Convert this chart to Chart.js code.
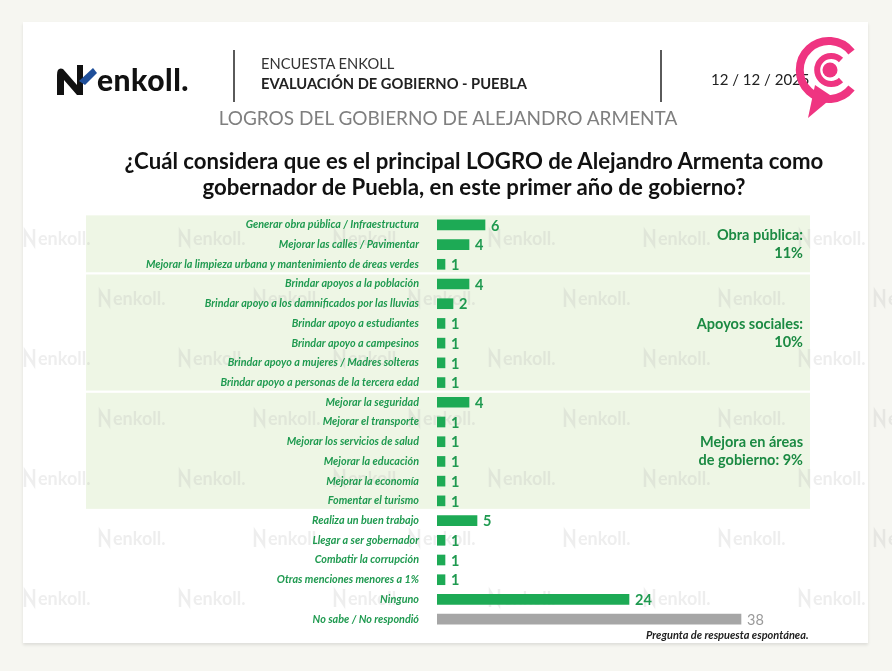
<!DOCTYPE html>
<html><head><meta charset="utf-8">
<script src="https://cdn.jsdelivr.net/npm/chart.js@4.4.1/dist/chart.umd.min.js"></script>
<style>
html,body{margin:0;padding:0;width:892px;height:671px;overflow:hidden;background:#f6f6f1;font-family:Lato,"Open Sans",sans-serif;}
#card{position:absolute;left:23px;top:22px;width:845px;height:621px;background:#fff;box-shadow:0 2px 3px rgba(0,0,0,0.10);}
#c{position:absolute;left:0;top:0;width:892px;height:671px;}
.t{position:absolute;white-space:nowrap;line-height:1;}
.vl{position:absolute;width:2px;background:#5a5a5a;}
</style></head><body>
<div id="card"></div>
<canvas id="c" width="892" height="671"></canvas>

<svg class="t" style="left:55px;top:63px" width="42" height="34" viewBox="0 0 42 34">
  <path d="M2 12 Q2 4 8 6 L22 22 L22 2 L28 2 L28 32 L22 32 L9 17 L9 32 L2 32 Z" fill="#111"/>
  <path d="M24 18 L38 5 L42 10 L30 22 Z" fill="#1f4f9a"/>
</svg>
<div class="t" style="left:97px;top:64px;font-size:30px;font-weight:900;color:#111;letter-spacing:0.5px">enkoll.</div>
<div class="vl" style="left:233px;top:50px;height:52px"></div>
<div class="t" style="left:261px;top:56px;font-size:14.7px;color:#333">ENCUESTA ENKOLL</div>
<div class="t" style="left:261px;top:76px;font-size:14.7px;font-weight:bold;color:#222">EVALUACIÓN DE GOBIERNO - PUEBLA</div>
<div class="vl" style="left:660px;top:50px;height:52px"></div>
<div class="t" style="left:711px;top:72px;font-size:15px;color:#222">12 / 12 / 2025</div>
<svg class="t" style="left:795px;top:35px" width="70" height="86" viewBox="0 0 70 86">
  <path d="M20 50 L13 83 L38 62 Z" fill="#ef3481"/>
  <path d="M56.5 17 A29 29 0 1 0 56.5 53" fill="none" stroke="#ef3481" stroke-width="8"/>
  <path d="M46 25 A14 14 0 1 0 46 45" fill="none" stroke="#ef3481" stroke-width="6"/>
  <circle cx="35" cy="35" r="7.5" fill="#ef3481"/>
</svg>
<div class="t" style="left:0;width:896px;text-align:center;top:108px;font-size:19px;color:#7f7f7f">LOGROS DEL GOBIERNO DE ALEJANDRO ARMENTA</div>
<div class="t" style="left:0;width:948px;text-align:center;top:148px;font-size:22.2px;font-weight:bold;color:#111;line-height:26px">¿Cuál considera que es el principal LOGRO de Alejandro Armenta como<br>gobernador de Puebla, en este primer año de gobierno?</div>
<div class="t" style="left:646px;top:629px;font-size:11px;font-weight:bold;font-style:italic;color:#222">Pregunta de respuesta espontánea.</div>

<script>
const categories = [
  "Generar obra pública / Infraestructura",
  "Mejorar las calles / Pavimentar",
  "Mejorar la limpieza urbana y mantenimiento de áreas verdes",
  "Brindar apoyos a la población",
  "Brindar apoyo a los damnificados por las lluvias",
  "Brindar apoyo a estudiantes",
  "Brindar apoyo a campesinos",
  "Brindar apoyo a mujeres / Madres solteras",
  "Brindar apoyo a personas de la tercera edad",
  "Mejorar la seguridad",
  "Mejorar el transporte",
  "Mejorar los servicios de salud",
  "Mejorar la educación",
  "Mejorar la economía",
  "Fomentar el turismo",
  "Realiza un buen trabajo",
  "Llegar a ser gobernador",
  "Combatir la corrupción",
  "Otras menciones menores a 1%",
  "Ninguno",
  "No sabe / No respondió"
];
const values = [6,4,1,4,2,1,1,1,1,4,1,1,1,1,1,5,1,1,1,24,38];
const noAnswerCategory = "No sabe / No respondió";
const groupLabels = [["Obra pública:","11%"],["Apoyos sociales:","10%"],["Mejora en áreas","de gobierno: 9%"]];
const groupFirst = [0,3,9];
const groupLast = [2,8,14];

const GREEN = "#1daa55", GRAY = "#a6a6a6", LABEL_GREEN = "#1f9a50", GROUP_GREEN = "#1b8a43";

const bandsPlugin = {
  id: "bands",
  beforeDraw(chart) {
    const ctx = chart.ctx, y = chart.scales.y;
    ctx.save();
    ctx.fillStyle = "#eef6e5";
    for (let g = 0; g < groupFirst.length; g++) {
      const top = y.getPixelForValue(groupFirst[g]) - 9.5;
      const bot = y.getPixelForValue(groupLast[g]) + 8;
      ctx.fillRect(86, top, 724, bot - top);
    }
    // watermarks
    ctx.font = "bold 18px Lato";
    ctx.textBaseline = "middle";
    const rows = [238,298,358,418,478,538,598];
    rows.forEach((wy, r) => {
      for (let wx = (r % 2 ? 100 : 25); wx < 892; wx += 155) {
        ctx.fillStyle = "rgba(170,170,170,0.2)";
        ctx.strokeStyle = "rgba(170,170,170,0.2)";
        ctx.lineWidth = 2.5;
        ctx.beginPath();
        ctx.moveTo(wx, wy + 9); ctx.lineTo(wx, wy - 7); ctx.lineTo(wx + 9, wy + 7); ctx.lineTo(wx + 9, wy - 9);
        ctx.stroke();
        ctx.fillText("enkoll.", wx + 13, wy + 1);
      }
    });
    ctx.restore();
  },
  afterDatasetsDraw(chart) {
    const ctx = chart.ctx, y = chart.scales.y;
    const meta = chart.getDatasetMeta(0);
    ctx.save();
    ctx.textBaseline = "middle";
    meta.data.forEach((bar, i) => {
      const gray = categories[i] === noAnswerCategory;
      ctx.font = (gray ? "" : "bold ") + "14.5px Lato";
      ctx.fillStyle = gray ? "#9a9a9a" : LABEL_GREEN;
      ctx.textAlign = "left";
      ctx.fillText(String(values[i]), bar.x + 6, bar.y + 1);
    });
    ctx.font = "bold 14.5px Lato";
    ctx.fillStyle = GROUP_GREEN;
    ctx.textAlign = "right";
    for (let g = 0; g < groupLabels.length; g++) {
      const top = y.getPixelForValue(groupFirst[g]) - 9.5;
      const bot = y.getPixelForValue(groupLast[g]) + 8;
      const mid = (top + bot) / 2 + 1;
      ctx.fillText(groupLabels[g][0], 803, mid - 9);
      ctx.fillText(groupLabels[g][1], 803, mid + 9);
    }
    ctx.restore();
  }
};

new Chart(document.getElementById("c"), {
  type: "bar",
  data: {
    labels: categories,
    datasets: [{
      data: values,
      backgroundColor: categories.map(c => c === noAnswerCategory ? GRAY : GREEN),
      borderWidth: 0,
      barThickness: 10
    }]
  },
  options: {
    indexAxis: "y",
    responsive: false,
    animation: false,
    layout: { padding: { top: 215, bottom: 42, left: 0, right: 55 } },
    plugins: { legend: { display: false }, tooltip: { enabled: false } },
    scales: {
      x: { display: false, min: 0, max: 50 },
      y: {
        afterFit(scale) { scale.width = 437; },
        grid: { display: false },
        border: { display: false },
        ticks: {
          autoSkip: false,
          padding: 10,
          color: LABEL_GREEN,
          font: { family: "Lato", size: 10.8, style: "italic", weight: "bold" }
        }
      }
    }
  },
  plugins: [bandsPlugin]
});
</script>
</body></html>
